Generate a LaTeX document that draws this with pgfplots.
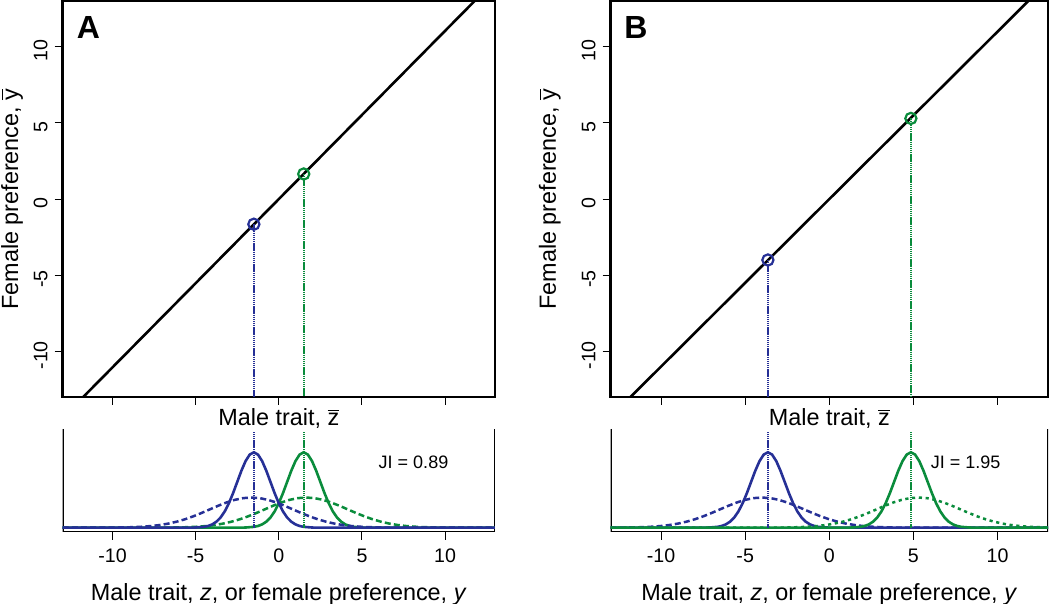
\documentclass[border=0pt]{standalone}
\usepackage{pgfplots}
\pgfplotsset{compat=1.18}
\usepackage{fontspec}
\setmainfont{Liberation Sans}
\definecolor{cblue}{RGB}{38,48,150}
\definecolor{cgreen}{RGB}{10,140,60}

\pgfplotsset{
  common/.style={
    scale only axis, anchor=south west,
    xmin=-13, xmax=13,
    /pgf/number format/assume math mode=true,
    tick align=outside, major tick length=4pt,
    every tick/.style={line width=0.5pt, black},
    xtick={-10,-5,0,5,10},
    label style={font=\fontsize{11.7}{13}\selectfont},
    ticklabel style={font=\fontsize{9.8}{10}\selectfont},
  },
  topaxis/.style={common,
    height=197.9pt, ymin=-13, ymax=13,
    axis line style={line width=1.25pt},
    xtick pos=bottom, ytick pos=left,
    xticklabels={},
    ytick={-10,-5,0,5,10},
    yticklabel style={rotate=90, anchor=south, xshift=-2pt},
    xlabel={Male trait, $\overline{\mbox{z}}$},
    xlabel style={at={(axis description cs:0.5,0)}, anchor=center, yshift=-11pt},
  },
  botaxis/.style={common,
    height=51.5pt, ymin=-0.057, ymax=1.309,
    axis line style={draw=none},
    xtick pos=bottom, ytick=\empty,
    xticklabel style={anchor=north, yshift=-1pt},
    xlabel={Male trait, \textit{z}, or female preference, \textit{y}},
    xlabel style={at={(axis description cs:0.5,0)}, anchor=center, yshift=-31pt},
  },
  solidc/.style={line width=1.3pt},
  dashc/.style={line width=1.25pt, dash pattern=on 3pt off 1.6pt},
  dotc/.style={line width=1.25pt, dash pattern=on 1.6pt off 1.8pt},
  vline/.style={line width=1.1pt, dash pattern=on 0.7pt off 0.35pt},
}

\begin{document}
\begin{tikzpicture}
\useasboundingbox (0,0) rectangle (525pt,302pt);

% ---------------- Panel A top
\begin{axis}[topaxis, at={(31.3pt,103.5pt)}, width=216.2pt,
  ylabel={Female preference, $\overline{\mbox{y}}$},
  ylabel style={at={(axis description cs:-0.117,0.5)}, anchor=center}]
\addplot[black, line width=1.3pt] coordinates {(-13,-14.37) (13,14.37)};
\addplot[cblue, vline] coordinates {(-1.5,-1.65) (-1.5,-13)};
\addplot[cgreen, vline] coordinates {(1.5,1.65) (1.5,-13)};
\addplot[cblue, only marks, mark=o, mark size=2.8pt, mark options={line width=1.1pt}] coordinates {(-1.5,-1.65)};
\addplot[cgreen, only marks, mark=o, mark size=2.8pt, mark options={line width=1.1pt}] coordinates {(1.5,1.65)};
\node[font=\bfseries\fontsize{16}{17}\selectfont] at (axis cs:-11.45,11.3) {A};
\end{axis}

% ---------------- Panel A bottom
\begin{axis}[botaxis, at={(31.3pt,36pt)}, width=216.2pt]
\draw[line width=1.25pt] (rel axis cs:0,1) -- (rel axis cs:0,0) -- (rel axis cs:1,0) -- (rel axis cs:1,1);
% green dashed (preference, mean 1.65)
\addplot[cgreen, dashc] coordinates {(-13,0) (-8.35,0.0001) (-7.35,0.0006) (-6.35,0.0024) (-5.85,0.0044) (-5.35,0.0079) (-4.85,0.0136) (-4.35,0.0225) (-3.85,0.0356) (-3.35,0.0541) (-2.85,0.0792) (-2.35,0.1112) (-1.85,0.1501) (-1.35,0.1947) (-0.85,0.2426) (-0.35,0.2905) (0.15,0.3341) (0.65,0.3692) (1.15,0.3921) (1.65,0.4) (2.15,0.3921) (2.65,0.3692) (3.15,0.3341) (3.65,0.2905) (4.15,0.2426) (4.65,0.1947) (5.15,0.1501) (5.65,0.1112) (6.15,0.0792) (6.65,0.0541) (7.15,0.0356) (7.65,0.0225) (8.15,0.0136) (8.65,0.0079) (9.15,0.0044) (9.65,0.0024) (10.65,0.0006) (11.65,0.0001) (13,0)};
% green solid (trait, mean 1.5)
\addplot[cgreen, solidc] coordinates {(-13,0) (-2.5,0.0003) (-2,0.0022) (-1.5,0.0111) (-1.25,0.0228) (-1,0.0439) (-0.75,0.0796) (-0.5,0.1353) (-0.25,0.2163) (0,0.3247) (0.25,0.4578) (0.5,0.6065) (0.75,0.7548) (1,0.8825) (1.25,0.9692) (1.5,1) (1.75,0.9692) (2,0.8825) (2.25,0.7548) (2.5,0.6065) (2.75,0.4578) (3,0.3247) (3.25,0.2163) (3.5,0.1353) (3.75,0.0796) (4,0.0439) (4.25,0.0228) (4.5,0.0111) (5,0.0022) (5.5,0.0003) (13,0)};
% blue dashed (preference, mean -1.65)
\addplot[cblue, dashc] coordinates {(-13,0) (-11.65,0.0001) (-10.65,0.0006) (-9.65,0.0024) (-9.15,0.0044) (-8.65,0.0079) (-8.15,0.0136) (-7.65,0.0225) (-7.15,0.0356) (-6.65,0.0541) (-6.15,0.0792) (-5.65,0.1112) (-5.15,0.1501) (-4.65,0.1947) (-4.15,0.2426) (-3.65,0.2905) (-3.15,0.3341) (-2.65,0.3692) (-2.15,0.3921) (-1.65,0.4) (-1.15,0.3921) (-0.65,0.3692) (-0.15,0.3341) (0.35,0.2905) (0.85,0.2426) (1.35,0.1947) (1.85,0.1501) (2.35,0.1112) (2.85,0.0792) (3.35,0.0541) (3.85,0.0356) (4.35,0.0225) (4.85,0.0136) (5.35,0.0079) (5.85,0.0044) (6.35,0.0024) (7.35,0.0006) (8.35,0.0001) (13,0)};
% blue solid (trait, mean -1.5)
\addplot[cblue, solidc] coordinates {(-13,0) (-5.5,0.0003) (-5,0.0022) (-4.5,0.0111) (-4.25,0.0228) (-4,0.0439) (-3.75,0.0796) (-3.5,0.1353) (-3.25,0.2163) (-3,0.3247) (-2.75,0.4578) (-2.5,0.6065) (-2.25,0.7548) (-2,0.8825) (-1.75,0.9692) (-1.5,1) (-1.25,0.9692) (-1,0.8825) (-0.75,0.7548) (-0.5,0.6065) (-0.25,0.4578) (0,0.3247) (0.25,0.2163) (0.5,0.1353) (0.75,0.0796) (1,0.0439) (1.25,0.0228) (1.5,0.0111) (2,0.0022) (2.5,0.0003) (13,0)};
\addplot[cblue, vline] coordinates {(-1.5,0) (-1.5,1.27)};
\addplot[cgreen, vline] coordinates {(1.5,0) (1.5,1.27)};
\node[font=\fontsize{9}{10}\selectfont] at (axis cs:8.1,0.867) {JI = 0.89};
\end{axis}

% ---------------- Panel B top
\begin{axis}[topaxis, at={(305.3pt,103.5pt)}, width=218.7pt,
  ylabel={Female preference, $\overline{\mbox{y}}$},
  ylabel style={at={(axis description cs:-0.139,0.5)}, anchor=center}]
\addplot[black, line width=1.3pt] coordinates {(-13,-14.3) (13,14.3)};
\addplot[cblue, vline] coordinates {(-3.65,-4.0) (-3.65,-13)};
\addplot[cgreen, vline] coordinates {(4.85,5.3) (4.85,-13)};
\addplot[cblue, only marks, mark=o, mark size=2.8pt, mark options={line width=1.1pt}] coordinates {(-3.65,-4.0)};
\addplot[cgreen, only marks, mark=o, mark size=2.8pt, mark options={line width=1.1pt}] coordinates {(4.85,5.3)};
\node[font=\bfseries\fontsize{16}{17}\selectfont] at (axis cs:-11.5,11.3) {B};
\end{axis}

% ---------------- Panel B bottom
\begin{axis}[botaxis, at={(305.3pt,36pt)}, width=218.7pt]
\draw[line width=1.25pt] (rel axis cs:0,1) -- (rel axis cs:0,0) -- (rel axis cs:1,0) -- (rel axis cs:1,1);
% blue dashed (preference, mean -4.0)
\addplot[cblue, dashc] coordinates {(-13,0.0006) (-12,0.0024) (-11.5,0.0044) (-11,0.0079) (-10.5,0.0136) (-10,0.0225) (-9.5,0.0356) (-9,0.0541) (-8.5,0.0792) (-8,0.1112) (-7.5,0.1501) (-7,0.1947) (-6.5,0.2426) (-6,0.2905) (-5.5,0.3341) (-5,0.3692) (-4.5,0.3921) (-4,0.4) (-3.5,0.3921) (-3,0.3692) (-2.5,0.3341) (-2,0.2905) (-1.5,0.2426) (-1,0.1947) (-0.5,0.1501) (0,0.1112) (0.5,0.0792) (1,0.0541) (1.5,0.0356) (2,0.0225) (2.5,0.0136) (3,0.0079) (3.5,0.0044) (4,0.0024) (5,0.0006) (6,0.0001) (13,0)};
% blue solid (trait, mean -3.65)
\addplot[cblue, solidc] coordinates {(-13,0) (-7.65,0.0003) (-7.15,0.0022) (-6.65,0.0111) (-6.4,0.0228) (-6.15,0.0439) (-5.9,0.0796) (-5.65,0.1353) (-5.4,0.2163) (-5.15,0.3247) (-4.9,0.4578) (-4.65,0.6065) (-4.4,0.7548) (-4.15,0.8825) (-3.9,0.9692) (-3.65,1) (-3.4,0.9692) (-3.15,0.8825) (-2.9,0.7548) (-2.65,0.6065) (-2.4,0.4578) (-2.15,0.3247) (-1.9,0.2163) (-1.65,0.1353) (-1.4,0.0796) (-1.15,0.0439) (-0.9,0.0228) (-0.65,0.0111) (-0.15,0.0022) (0.35,0.0003) (13,0)};
% green dotted (preference, mean 5.3)
\addplot[cgreen, dotc] coordinates {(-13,0) (-4.7,0.0001) (-3.7,0.0006) (-2.7,0.0024) (-2.2,0.0044) (-1.7,0.0079) (-1.2,0.0136) (-0.7,0.0225) (-0.2,0.0356) (0.3,0.0541) (0.8,0.0792) (1.3,0.1112) (1.8,0.1501) (2.3,0.1947) (2.8,0.2426) (3.3,0.2905) (3.8,0.3341) (4.3,0.3692) (4.8,0.3921) (5.3,0.4) (5.8,0.3921) (6.3,0.3692) (6.8,0.3341) (7.3,0.2905) (7.8,0.2426) (8.3,0.1947) (8.8,0.1501) (9.3,0.1112) (9.8,0.0792) (10.3,0.0541) (10.8,0.0356) (11.3,0.0225) (11.8,0.0136) (12.3,0.0079) (12.8,0.0044) (13,0.0037)};
% green solid (trait, mean 4.85)
\addplot[cgreen, solidc] coordinates {(-13,0) (0.85,0.0003) (1.35,0.0022) (1.85,0.0111) (2.1,0.0228) (2.35,0.0439) (2.6,0.0796) (2.85,0.1353) (3.1,0.2163) (3.35,0.3247) (3.6,0.4578) (3.85,0.6065) (4.1,0.7548) (4.35,0.8825) (4.6,0.9692) (4.85,1) (5.1,0.9692) (5.35,0.8825) (5.6,0.7548) (5.85,0.6065) (6.1,0.4578) (6.35,0.3247) (6.6,0.2163) (6.85,0.1353) (7.1,0.0796) (7.35,0.0439) (7.6,0.0228) (7.85,0.0111) (8.35,0.0022) (8.85,0.0003) (13,0)};
\addplot[cblue, vline] coordinates {(-3.65,0) (-3.65,1.27)};
\addplot[cgreen, vline] coordinates {(4.85,0) (4.85,1.27)};
\node[font=\fontsize{9}{10}\selectfont] at (axis cs:8.1,0.867) {JI = 1.95};
\end{axis}
\end{tikzpicture}
\end{document}
